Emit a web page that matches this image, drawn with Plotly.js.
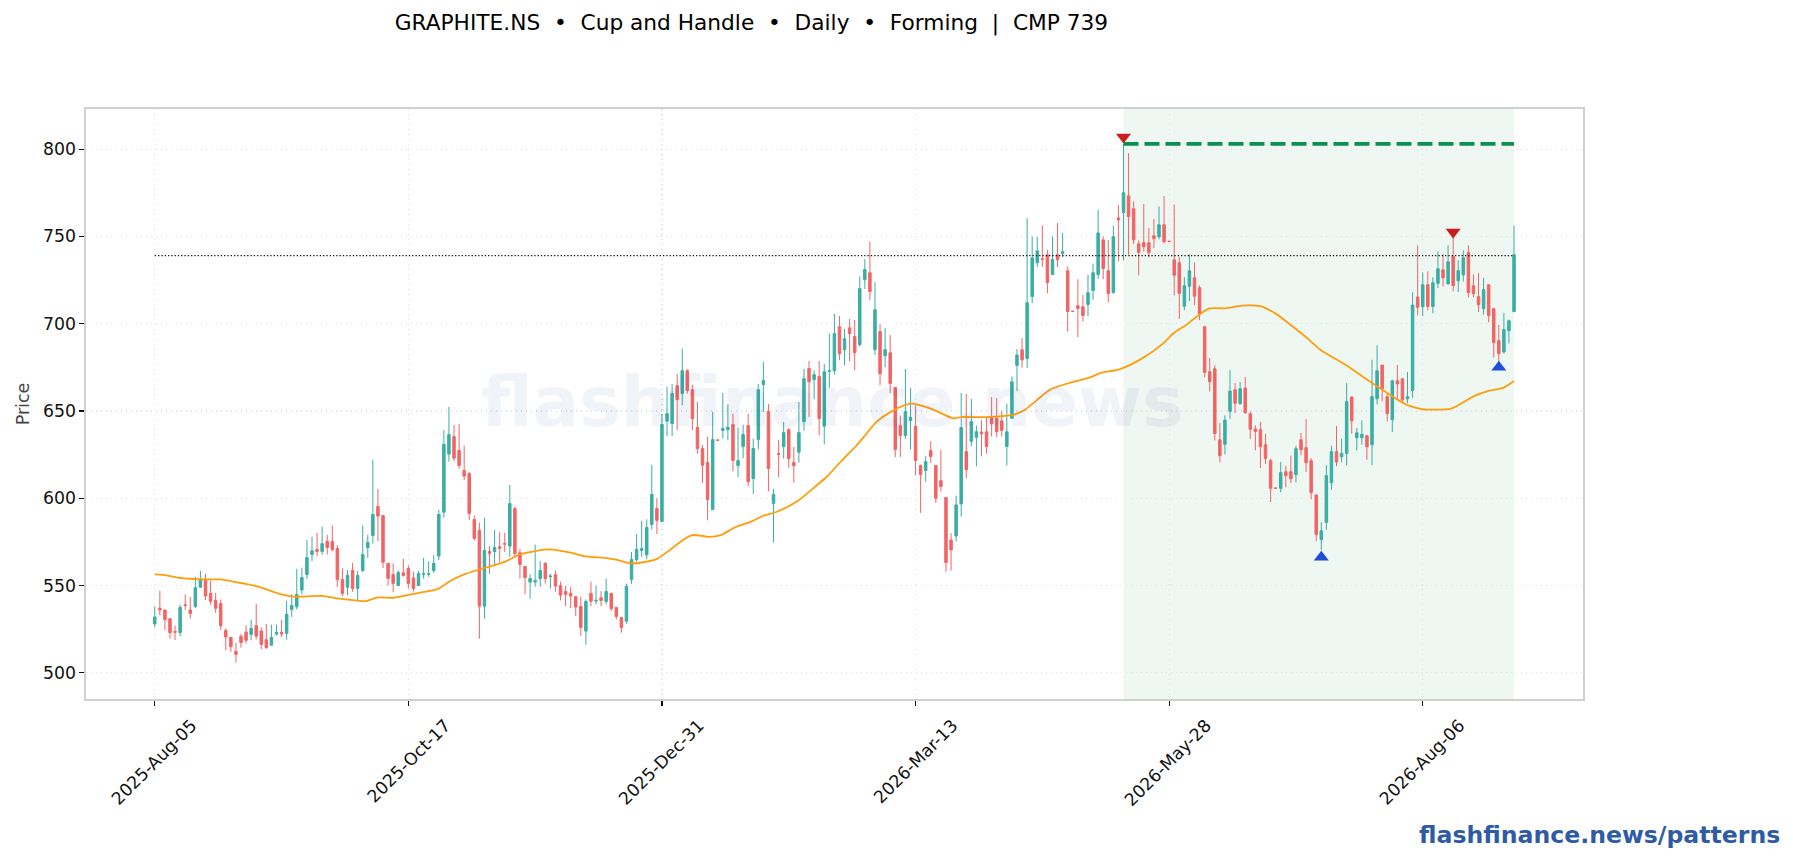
<!DOCTYPE html>
<html>
<head>
<meta charset="utf-8">
<title>GRAPHITE.NS Cup and Handle</title>
<script src="https://cdn.plot.ly/plotly-3.0.1.min.js"></script>
<style>
    html, body { margin: 0; padding: 0; background: #fff; }
    #chart { width: 1793px; height: 860px; }
</style>
</head>
<body>
<div id="chart"></div>
<script>
// candle values, one entry per trading day
var highs = [
    538,547,536,531,527,539,545,543.5,555,558.5,
    556.7,552.7,545.8,542,525.4,520.6,517.2,522.4,527.3,530.4,
    539.6,526,528,527.5,527.5,530.4,541.3,545,559.6,560.2,
    576.2,577.9,580.2,583.8,579,584.4,573.2,559.8,558.8,563,
    558.3,584.4,579,622,605.4,590.1,562.7,562.7,558.8,565.3,
    561.5,558,558.3,565.9,564,567.4,593.4,639,652.4,642,
    642.6,630.2,615,590.1,585.9,588.8,572.6,581.9,580.8,580.2,
    607.7,595.1,571,560.9,556.5,573.5,564,563.2,556.7,558.6,
    552.2,549.7,549.3,544,543.6,542,552.2,550,546.8,553.9,
    545.5,537.8,531.9,551,569.3,579.6,587.1,587.9,619.1,599.9,
    648.3,663.8,665.5,671.2,685.7,674,665.1,655.2,630.6,635.3,
    649.5,633.6,660.3,653.7,648.5,640.5,642.2,648.3,634,665.5,
    678.1,654,605.4,633.4,643.7,640.3,629.4,655.2,674.1,678.6,
    673.3,678.6,676.9,694.3,705.6,704.4,697,702.7,702.1,727.1,
    737,747,723.9,699.8,697.6,693.5,663.4,647.4,674.1,663.2,
    653.1,619.3,624.1,632.7,618.7,627.7,600.4,580,601.5,660.3,
    659.7,656.8,641.7,644.6,646.5,658,657.4,650,654.2,669.8,
    685.5,691.8,760.5,750,749.6,756.3,742.3,750,757.6,751.9,
    732.8,707.4,725.5,716.4,728,734.3,765.2,750,748,756.3,
    768,803,797.7,770,747.7,768.5,754.8,760,767.2,773.1,
    747.5,768.3,738.2,726.7,739.9,735.1,722,698.5,680.3,676.1,
    643.1,647.5,673.4,666,666.6,669.4,649.8,641.8,643.7,636.8,
    622.7,606.1,620.8,618.5,624.4,630.1,637.4,645.4,623,601.9,
    586.4,619,630.1,641.4,634.1,666,658.4,640.2,644.6,636.4,
    679.3,687.6,676.3,660.6,667.9,676.3,668.5,672.3,718,744.9,
    729.4,730,726.5,741.4,740,744.9,750.4,736.5,742,744.9,
    728.3,729,726.2,722.3,709,699.4,706.1,702.3,756.1
];
var bodyTops = [
    532,537,536,531,523.7,537.5,539,536,548.7,553.5,
    553.5,545.5,541.5,539.7,524.3,520.3,512.3,520.9,523.4,525.4,
    527,524,519,520.3,523.2,523.2,533.5,538.6,544.9,554.6,
    566,569.9,570.7,574,575.3,575.3,571.2,553.5,555.8,558.6,
    555.8,567.8,574.7,590.7,595.3,590.1,562.7,556.3,557.5,557.3,
    559.8,554.4,556.9,556.7,556.7,562.7,590.7,630.8,636.5,635.4,
    627.4,615.9,614.2,587.8,581.5,570.1,569.5,571.8,572.2,574.1,
    597,594.1,568.8,560.9,554,552.9,558.6,562.8,555.4,556.2,
    550,546.6,545.5,543.6,538,540.9,545.5,541.5,543,546.6,
    545.5,537.5,531.7,549.5,564.9,570.7,571.2,583.3,602.2,594.1,
    642.2,648.5,660,664.5,673.1,673.1,662.2,640.5,628.5,620.5,
    633.6,633.4,639.9,640.7,642.2,621.6,636.5,641.6,628.5,662.2,
    667.4,649.7,602.1,625.6,637.6,639.3,620.5,637.6,668.5,674.3,
    670.8,669.7,672.5,673.1,694.3,698.3,691.4,697.6,692.6,720.1,
    731,729.2,708,695.5,685.1,683.4,663.4,641.6,649.6,646.4,
    641.1,618.7,621,627.3,618.7,610.1,600.4,576.1,596.2,640.5,
    626.7,643.8,638.1,637.9,638.1,646.1,645.8,644.4,638.1,666.7,
    682,685.1,712,737.7,741.7,737.2,739.5,736.8,739.5,741.2,
    730.3,707.2,710.3,709.7,717.7,729.2,752,748,730.3,749.8,
    760.6,775,773.3,765.8,745.8,746.4,746.4,750.4,756.7,756.7,
    747.3,736.6,734.9,721.8,730.3,726.3,720.6,698.3,672.5,674.2,
    633.5,644.8,661.4,662.2,662.7,663.1,648.4,639.7,639.3,630.7,
    621.5,605.9,614.7,615.2,615.2,628.4,633.5,629,621.5,601.9,
    581.4,612.9,626.7,626.7,625.7,655.3,658,637.5,636.6,635.8,
    658.2,673,676.3,658.2,667.3,667.3,668.5,658.2,710.7,715.3,
    722.3,722.3,723.5,731.5,730.9,735.5,738.6,730.4,737.8,740.7,
    721.8,715.5,719.5,722.3,708.6,690.3,696.6,701.7,739.5
];
var bodyBottoms = [
    528,536,530.5,523,523.3,523,538.6,534,538,549,
    544,541,537,527,520.5,515,510.6,517.4,518.6,522,
    521,516.3,514.4,515.8,522.2,522.2,522.6,536.3,537.8,547.4,
    556.3,567.8,569.5,569.5,571.8,570.7,553.5,545.5,549,548.3,
    548.3,558.5,571.8,578.7,589.8,563.4,554,551.2,550,555.8,
    551.2,548.3,550,556.5,556.5,558.6,566.9,592,625.3,623,
    618.8,612.7,591.3,577,538.2,538.2,568.4,569.5,571.2,573.7,
    572.6,568.4,562.1,554.6,552,552,554,554,555,549.7,
    544.5,544.9,544,537.7,526,523.9,540.9,541.1,541.5,540.9,
    536.9,532.3,526,529.6,553.5,564.9,570.1,567.6,585,587.3,
    586.7,644.1,642.8,656.5,660,661.7,645.6,628.5,618.9,599.3,
    593.5,633.2,638.9,639.3,621.6,618.7,629.6,609.6,611.3,633.6,
    665.1,617,597,625.2,629.6,622.7,618.7,626.4,643.9,666.8,
    668,645.6,641.3,672.7,673.1,682.9,685.1,694.3,683.4,688,
    725.2,718.4,685.1,671.4,681.7,665.7,627.9,635.9,635.9,644.5,
    621.6,613.6,615.9,623.9,600,606.7,563.2,570.4,578.4,596.8,
    616.4,632.6,634.9,637,629.7,642.7,638.1,638.9,629.7,645.8,
    676.1,679.3,680.1,715.6,734.9,736.8,723.6,728.2,736.8,740.2,
    707,707,708.7,704.7,711,719,728.2,731.6,717.3,717.7,
    759.5,763.7,761.3,748.1,740.8,744.1,740.7,748.7,749.8,747,
    747.1,727.7,717.4,710,721.4,715.7,705.7,672.1,666.8,637,
    624.4,630.9,649.8,654.4,654.2,649,639.5,638.3,629.7,622.9,
    605.7,605.7,605.7,612.9,611.2,613.5,627.8,620.4,603.2,579.2,
    576.3,586.2,608.9,620.8,623.8,625.7,644.4,634.7,634.7,629.5,
    630.7,657,662.7,648.4,645,665.6,656.4,657,661.8,709.4,
    709.7,709.9,709.9,723.1,726.3,722.9,721.8,724.6,728,717.8,
    717.2,710.9,708.6,704.6,689.1,682.8,683.8,696,706.9
];
var lows = [
    526,533,524.5,519.5,518.8,521,536,531,537,549,
    541.7,539,534.4,524.6,513,512,505.8,514.4,516.9,518.7,
    519,513.6,513.8,515.8,521.2,520.5,519,532,536.3,544.9,
    553.8,564,566.8,567.6,567.8,569.7,549.3,544,544.5,546.4,
    541,557.7,565.9,574,575.4,560,550,546.2,550,555,
    548.2,546.6,550,553.9,555,557.3,564.6,588.8,620.9,621.2,
    616.9,610.4,587.5,575.8,519.5,531,556.7,561.1,563.4,569.3,
    566.5,566.9,554,545,542.4,549.3,549.3,551.2,548.2,546.4,
    541.5,538.2,537,532.5,521,516,538.2,539.2,538.2,539.2,
    535.4,530.6,523,528.1,551,563.4,566.5,565,582.1,579.6,
    586.7,635.6,635.5,639,653.3,660,639,625.6,608.8,587.4,
    593.5,633,634.2,633.2,615.5,612.1,622.9,606.9,602.5,628,
    649.5,604,574.8,612.1,622.6,617.4,608.8,620.3,638.6,646.6,
    656.7,636.1,630.9,663.2,670.8,679,676.2,678.5,673.3,687,
    719.9,713.4,682.1,664.7,675,660.3,623.5,623.7,634,627.9,
    613.2,591.6,609.4,620.3,597.4,603.7,558,558.6,575.2,589.5,
    611.4,629.7,618.3,624,625.5,635.4,634.9,635.4,618.8,645.4,
    661.4,674.9,674.6,711.8,732.4,732.4,717.5,727.8,732.4,738.1,
    695.6,706.8,692.3,701.3,704.2,713.7,725.7,725.5,712.2,717.5,
    735.6,736.3,739.5,745.6,727.7,741.4,738,743.3,748.3,746,
    746.9,716.2,702.7,707.8,713,710.7,702.1,669.3,661.2,633.2,
    620.6,625.1,645.4,648.8,653.6,648.4,633.9,627.4,617.3,619.6,
    597.9,605.5,603.4,606.3,608.7,609.1,624.6,615,599.4,575.3,
    570.2,582,604.9,618.3,620.6,618.9,637,627.4,630.7,622.1,
    618.9,653.8,655.5,644,637.9,657,654.5,654.5,657.5,704.8,
    704.4,707.6,705.9,720.4,721.4,722.3,718.5,718.1,724.2,715.1,
    715.3,706.7,705.2,700.8,680.7,676,682.8,688.6,706.9
];
// U = closed up (green), D = closed down (red)
var directions = (
    'UDDDDUDDUU' + 'DDDDDDDDDU' + 'DDDUUDUUUU' + 'UUDUDDDDUD' + 'UUUUDDDDUD' +
    'DDUUUUUUUD' + 'DDDDDUDUDD' + 'UDDDUUUDUD' + 'DDDDDUDUDU' + 'DDDUUUUUUD' +
    'UUUDUDDDDD' + 'UDUUDUUDUU' + 'UDUDUDDUUD' + 'UDUUUDUDDU' + 'UDUDUDDDUU' +
    'DDUDDDDDUU' + 'DUUDDDDDUU' + 'UDUUUDDUDU' + 'DDDDUUUDDU' + 'DUDDDDDDUD' +
    'DDDUUDDDDD' + 'DUUDUDDDDD' + 'DDUDDUDDDD' + 'UUUDUUDUUD' + 'UUDDUDDUUD' +
    'UDUUDUDUUD' + 'DDUDDDUUU'
).split('');

// moving average, read at the bends of the line
var maIndex = [0,2,5,7,10,13,15,20,25,27.4,33,36,40,41.6,44,47,50,55,56,58,61,64,69,72,75.3,78,82,84.6,89.2,91,94,96,99,
    101.7,104.3,106,109.3,111.6,114.2,117.8,120,122.4,126.7,130.7,132.6,135.3,138.2,139.9,142.2,145.1,149,153,157.4,
    159,164,169.6,171.6,176.5,179.8,184.4,186.4,190.3,194.6,198.9,200.9,203,207.8,211,214.4,218,221.3,223.9,227.2,229.8,
    235,239,245.6,247,250,251,255.6,260,263.2,265.8,268];
var maValues = [556.4,556,554.4,553.9,553.5,553.5,552.5,549.7,544.9,543.6,544.1,542.6,541.3,541.1,543.2,543,544.7,547.4,548.2,552.2,556.4,559.2,563.6,567.8,569.9,570.7,568.8,566.9,565.7,564.8,562.7,563.2,565.3,
    570.7,576.4,578.9,577.9,578.9,583,586.9,590.1,592,598.3,607.9,612.6,621.2,629.8,635.5,643.5,649.5,654.2,651.4,645.8,
    646.5,646.5,648.1,650.7,662.2,665.6,669.2,671.7,674,680,688.9,694.7,698.5,708.6,708.8,710.3,710.1,705.2,699.4,691.8,685.1,
    676,668,655.5,653.4,651,650.8,651.3,658.4,661.6,663.2,667.2];

var tickIndex = [0, 50, 100, 150, 200, 250];
var tickLabels = ['2025-Aug-05', '2025-Oct-17', '2025-Dec-31', '2026-Mar-13', '2026-May-28', '2026-Aug-06'];

var pivotHighIndex = [191, 256];
var pivotHighValues = [806.9, 752.5];
var pivotLowIndex = [230, 265];
var pivotLowValues = [566.2, 675];

var patternStart = 191;
var resistance = 803;
var cmp = 739;

var index = highs.map(function (h, i) { return i; });
var opens = directions.map(function (d, i) { return d === 'U' ? bodyBottoms[i] : bodyTops[i]; });
var closes = directions.map(function (d, i) { return d === 'U' ? bodyTops[i] : bodyBottoms[i]; });
var lastIndex = index[index.length - 1];

var UP_COLOR = '#3aaea4';
var DOWN_COLOR = '#f26464';
var AXIS_FONT = { family: 'DejaVu Sans', size: 17.3, color: '#111111' };

var traces = [
    {
        type: 'candlestick',
        x: index,
        open: opens,
        high: highs,
        low: lows,
        close: closes,
        increasing: { line: { color: UP_COLOR, width: 1 }, fillcolor: UP_COLOR },
        decreasing: { line: { color: DOWN_COLOR, width: 1 }, fillcolor: DOWN_COLOR },
        whiskerwidth: 0,
        hoverinfo: 'skip'
    },
    {
        type: 'scatter', mode: 'lines',
        x: [0, lastIndex], y: [cmp, cmp],
        line: { color: '#111111', width: 1.3, dash: '1.3px 2px' },
        hoverinfo: 'skip'
    },
    {
        type: 'scatter', mode: 'lines',
        x: [patternStart, lastIndex], y: [resistance, resistance],
        line: { color: '#0a9150', width: 3.8, dash: '15px 6px' },
        hoverinfo: 'skip'
    },
    {
        type: 'scatter', mode: 'lines',
        x: maIndex, y: maValues,
        line: { color: '#ff9d0a', width: 1.8, shape: 'spline', smoothing: 0.7 },
        hoverinfo: 'skip'
    },
    {
        type: 'scatter', mode: 'markers',
        x: pivotHighIndex, y: pivotHighValues,
        marker: { symbol: 'triangle-down', size: 13, color: '#c81e1e' },
        hoverinfo: 'skip'
    },
    {
        type: 'scatter', mode: 'markers',
        x: pivotLowIndex, y: pivotLowValues,
        marker: { symbol: 'triangle-up', size: 13, color: '#1d4ed8' },
        hoverinfo: 'skip'
    }
];

var layout = {
    width: 1793,
    height: 860,
    paper_bgcolor: '#ffffff',
    plot_bgcolor: '#ffffff',
    showlegend: false,
    boxgap: 0.3,
    margin: { l: 85.5, r: 209.5, t: 109, b: 160.5, pad: 0 },
    title: {
        text: 'GRAPHITE.NS  \u2022  Cup and Handle  \u2022  Daily  \u2022  Forming  |  CMP 739',
        font: { family: 'DejaVu Sans', size: 21.7, color: '#000000' },
        xref: 'paper', x: 0.4445, xanchor: 'center',
        yref: 'container', y: 0.974, yanchor: 'middle'
    },
    xaxis: {
        range: [-13.56, 281.6],
        rangeslider: { visible: false },
        tickmode: 'array',
        tickvals: tickIndex,
        ticktext: tickLabels,
        tickangle: -45,
        ticklabelshift: 37,
        ticklabelstandoff: 3,
        tickfont: AXIS_FONT,
        ticks: 'outside',
        ticklen: 5,
        tickwidth: 1.2,
        tickcolor: '#111111',
        showgrid: true,
        gridcolor: '#e0e0e0',
        griddash: '1px 4px',
        gridwidth: 1.2,
        zeroline: false,
        showline: true,
        mirror: true,
        linecolor: '#d0d0d0',
        linewidth: 1.6
    },
    yaxis: {
        range: [485, 823],
        tickmode: 'array',
        tickvals: [500, 550, 600, 650, 700, 750, 800],
        tickfont: AXIS_FONT,
        ticks: 'outside',
        ticklen: 5,
        tickwidth: 1.2,
        tickcolor: '#111111',
        showgrid: true,
        gridcolor: '#e0e0e0',
        griddash: '1px 4px',
        gridwidth: 1.2,
        zeroline: false,
        showline: true,
        mirror: true,
        linecolor: '#d0d0d0',
        linewidth: 1.6,
        title: {
            text: 'Price',
            font: { family: 'DejaVu Sans', size: 17.5, color: '#444444' },
            standoff: 9
        }
    },
    shapes: [
        {
            type: 'rect', layer: 'below',
            xref: 'x', yref: 'paper',
            x0: patternStart, x1: lastIndex, y0: 0, y1: 1,
            fillcolor: 'rgba(10,140,70,0.065)',
            line: { width: 0 }
        }
    ],
    annotations: [
        {
            text: '<b>flashfinance.news</b>',
            xref: 'paper', yref: 'paper', x: 0.4983, y: 0.5035,
            xanchor: 'center', yanchor: 'middle', showarrow: false,
            font: { family: 'DejaVu Sans', size: 69.4, color: 'rgba(40,80,160,0.07)' }
        },
        {
            text: '<b>flashfinance.news/patterns</b>',
            xref: 'paper', yref: 'paper', x: 1.1328, y: -0.2312,
            xanchor: 'right', yanchor: 'middle', showarrow: false,
            font: { family: 'DejaVu Sans', size: 23.6, color: '#2f5ba5' }
        }
    ]
};

Plotly.newPlot('chart', traces, layout, { displayModeBar: false, staticPlot: true });
</script>
</body>
</html>
